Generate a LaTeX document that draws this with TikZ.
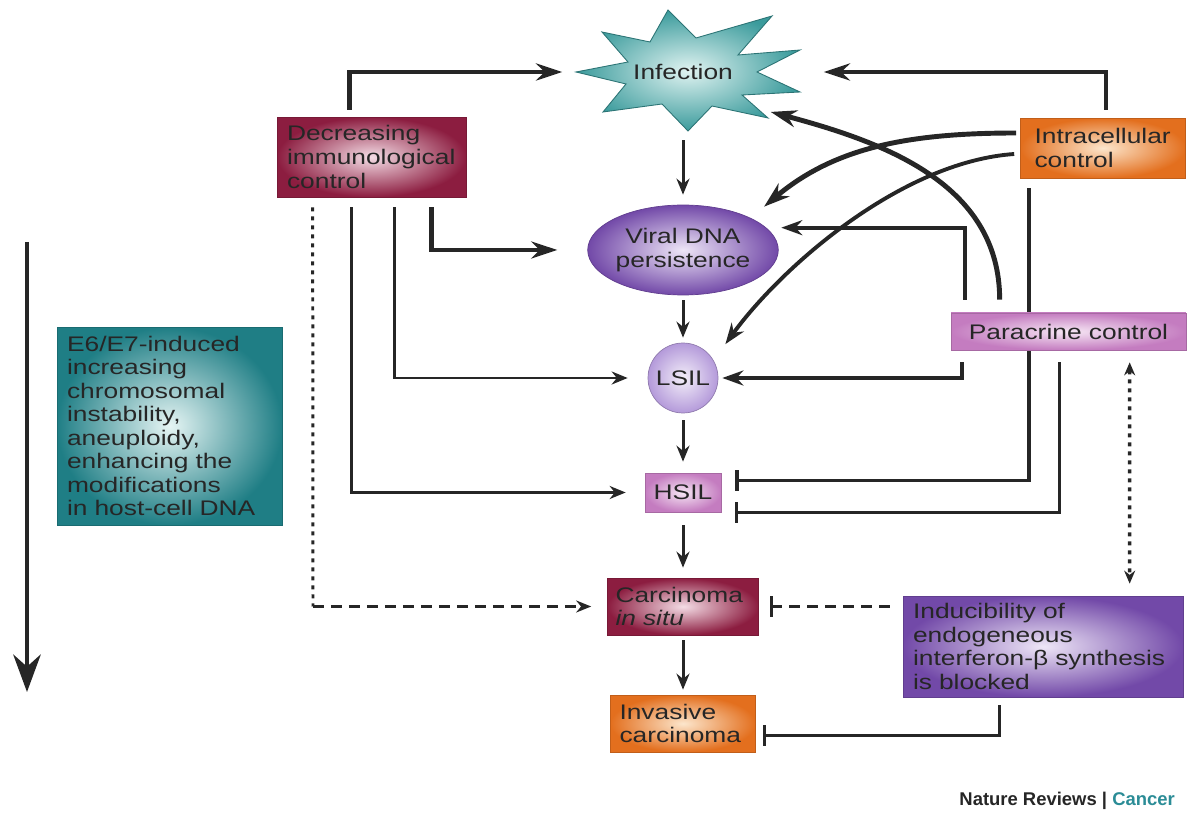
\documentclass[tikz,border=0pt]{standalone}
\usepackage{fontspec}
\setmainfont{Liberation Sans}[FakeStretch=1.25]
\newfontfamily\creditfont{Liberation Sans}
\usetikzlibrary{arrows.meta,calc,shapes.geometric,backgrounds}

\definecolor{redout}{HTML}{8C1D40}
\definecolor{redin}{HTML}{F4DCE5}
\definecolor{orangeout}{HTML}{E36F1E}
\definecolor{orangein}{HTML}{FCE6CC}
\definecolor{pinkout}{HTML}{C47CC0}
\definecolor{pinkin}{HTML}{F6E6F4}
\definecolor{violetout}{HTML}{7249A8}
\definecolor{violetin}{HTML}{EEE6F7}
\definecolor{lilacout}{HTML}{B49ADA}
\definecolor{lilacin}{HTML}{F3EEF9}
\definecolor{tealout}{HTML}{1F7E85}
\definecolor{tealin}{HTML}{E6F5F4}
\definecolor{starout}{HTML}{3B9B9C}
\definecolor{starin}{HTML}{E0F3F1}
\definecolor{cancerteal}{HTML}{2B8C96}
\definecolor{ink}{HTML}{262626}

\tikzset{
  txt/.style={font=\fontsize{12}{13.4}\selectfont, text=black!85},
  box/.style={txt, rectangle, align=left, inner ysep=0.06cm, line width=0.4pt},
  redbox/.style={box, inner color=redin, outer color=redout, draw=redout!85!black},
  orangebox/.style={box, inner color=orangein, outer color=orangeout, draw=orangeout!85!black},
  pinkbox/.style={box, inner color=pinkin, outer color=pinkout, draw=pinkout!85!black},
  violetbox/.style={box, inner color=violetin, outer color=violetout, draw=violetout!85!black},
  tealbox/.style={box, inner color=tealin, outer color=tealout, draw=tealout!85!black},
  conn/.style={draw=ink, line width=1.7pt, -{Stealth[length=0.32cm,width=0.26cm]}},
  medconn/.style={draw=ink, line width=2.2pt, -{Stealth[length=0.42cm,width=0.3cm]}},
  thickconn/.style={draw=ink, line width=2.8pt, -{Stealth[length=0.52cm,width=0.34cm]}},
  blockconn/.style={draw=ink, line width=1.7pt, -{Bar[width=0.42cm]}},
  dotline/.style={draw=ink, line width=1.7pt, dash pattern=on 0.08cm off 0.1cm},
  dashline/.style={draw=ink, line width=1.7pt, dash pattern=on 0.22cm off 0.14cm},
}

\begin{document}
\hyphenpenalty=10000
\begin{tikzpicture}[x=0.02cm, y=-0.02cm]
    \useasboundingbox (0,0) rectangle (1187,820);

    % the infection burst
    \shade[inner color=starin, outer color=starout, draw=starout!75!black, line width=0.5pt]
        (576,72) -- (628,62) -- (602,32) -- (650,42) -- (668,10) -- (696,38)
        -- (772,16) -- (738,55) -- (800,50) -- (757,72) -- (800,92) -- (742,95)
        -- (768,118) -- (712,106) -- (688,131) -- (662,104) -- (603,112) -- (626,84) -- cycle;
    \node[txt, ellipse, minimum width=4.3cm, minimum height=2.4cm] (infection) at (683,72) {Infection};

    % boxes
    \node[redbox, minimum width=3.78cm, minimum height=1.6cm, inner xsep=0.2cm, text width=3.38cm] (decr) at (371.5,157) {Decreasing\\immunological\\control};
    \node[orangebox, minimum width=3.3cm, minimum height=1.2cm, inner xsep=0.28cm, text width=2.74cm] (intra) at (1103,148) {Intracellular\\control};
    \node[txt, ellipse, inner color=violetin, outer color=violetout, draw=violetout!85!black, align=center, inner sep=0pt, minimum width=3.74cm, minimum height=1.8cm] (viral) at (683,250) {Viral DNA\\persistence};
    \node[txt, circle, inner color=lilacin, outer color=lilacout, draw=lilacout!80!black, inner sep=0pt, minimum size=1.4cm] (lsil) at (683,378) {LSIL};
    \node[pinkbox, align=center, minimum width=4.7cm, minimum height=0.74cm] (para) at (1068.5,331.5) {Paracrine control};
    \node[pinkbox, align=center, minimum width=1.52cm, minimum height=0.78cm] (hsil) at (683,492.5) {HSIL};
    \node[redbox, minimum width=3.02cm, minimum height=1.14cm, inner xsep=0.16cm, text width=2.7cm] (carc) at (683,606.5) {Carcinoma\\\textit{in situ}};
    \node[orangebox, minimum width=2.9cm, minimum height=1.14cm, inner xsep=0.18cm, text width=2.54cm] (inv) at (683,723.5) {Invasive\\carcinoma};
    \node[violetbox, minimum width=5.6cm, minimum height=2.02cm, inner xsep=0.2cm, text width=5.2cm] (induc) at (1043,646.5) {Inducibility of\\endogeneous\\interferon-β synthesis\\is blocked};
    \node[tealbox, minimum width=4.5cm, minimum height=3.96cm, inner xsep=0.2cm, text width=4.1cm] (instab) at (169.5,426) {E6/E7-induced\\increasing\\chromosomal\\instability,\\aneuploidy,\\enhancing the\\modifications\\in host-cell DNA};

    % progression axis
    \coordinate (axistop) at (27,242);
    \coordinate (axisend) at (27,692);
    \draw[draw=ink, line width=2.4pt, -{Stealth[length=0.75cm,width=0.55cm]}] (axistop) -- (axisend);

    % main column
    \draw[conn, shorten <=0.16cm, shorten >=0.2cm] (infection.south) -- (viral.north);
    \draw[conn, shorten <=0.1cm, shorten >=0.1cm] (viral.south) -- (lsil.north);
    \draw[conn, shorten <=0.14cm, shorten >=0.22cm] (lsil.south) -- (hsil.north);
    \draw[conn, shorten <=0.26cm, shorten >=0.2cm] (hsil.south) -- (carc.north);
    \draw[conn, shorten <=0.1cm, shorten >=0.1cm] (carc.south) -- (inv.north);

    % immunological control
    \draw[thickconn, shorten >=0.26cm] ($(decr.north west)+(73,-7)$) |- (infection.west);
    \draw[thickconn, shorten >=0.6cm] ($(decr.south west)+(155,10)$) |- (viral.west);
    \draw[conn, shorten >=0.4cm] ($(decr.south west)+(118,10)$) |- (lsil.west);
    \draw[conn, shorten >=0.38cm] ($(decr.south west)+(75,10)$) |- (hsil.west);
    \coordinate (dotcorner) at (313,606.5);
    \draw[dotline] ($(decr.south west)+(36,10)$) -- (dotcorner);
    \draw[dashline, -{Stealth[length=0.3cm,width=0.24cm]}, shorten >=0.32cm] (dotcorner) -- (carc.west);

    % intracellular control
    \draw[thickconn, shorten >=0.66cm] ($(intra.north)+(3,-8)$) |- (infection.east);
    \draw[thickconn, shorten >=0.35cm] ($(intra.west)+(-4,-15)$) to[out=180, in=40] (viral.north east);
    \draw[medconn, shorten >=0.4cm] ($(intra.west)+(-6,6)$) to[out=184, in=54, looseness=0.8] (lsil.30);
    \begin{scope}[on background layer]
        \draw[blockconn, line width=2.2pt, shorten >=0.28cm] ($(intra.south west)+(9,10)$) |- ($(hsil.east)+(0,-12)$);
    \end{scope}

    % paracrine control
    \draw[thickconn, shorten >=0.1cm] ($(para.north west)+(49,-13)$) to[out=90, in=-15] (infection.-25);
    \draw[medconn, shorten >=0.3cm] ($(para.north west)+(14,-13)$) |- (viral.15);
    \draw[medconn, shorten >=0.08cm] ($(para.south west)+(11,12)$) |- (lsil.east);
    \draw[blockconn, shorten >=0.28cm] ($(para.south west)+(109,12)$) |- ($(hsil.east)+(0,20)$);
    \draw[dotline, line width=2pt, {Stealth[length=0.26cm,width=0.22cm]}-{Stealth[length=0.26cm,width=0.22cm]}] ($(para.south west)+(179,12)$) -- ($(induc.north west)+(227,-12)$);

    % interferon block
    \draw[dashline, -{Bar[width=0.42cm]}, shorten <=0.26cm, shorten >=0.22cm] (carc.east -| induc.west) -- (carc.east);
    \draw[blockconn, shorten >=0.15cm] ($(induc.south west)+(97,8)$) |- ($(inv.east)+(0,12)$);

    \node[anchor=east, font=\creditfont\bfseries\fontsize{10.5}{12}\selectfont, text=black!85] (credit) at (1181,801) {Nature Reviews | \textcolor{cancerteal}{Cancer}};
\end{tikzpicture}
\end{document}
